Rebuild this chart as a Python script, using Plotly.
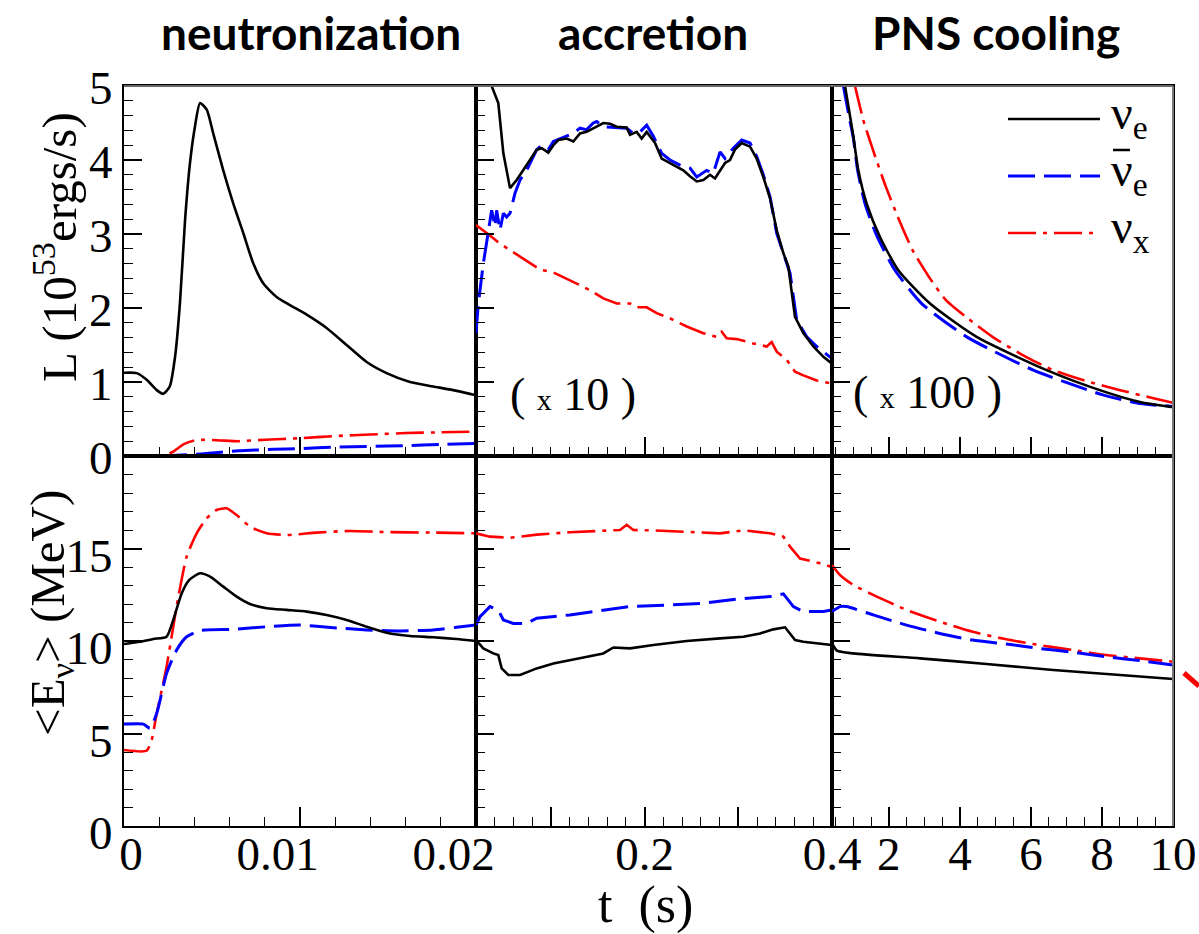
import plotly.graph_objects as go
from plotly.subplots import make_subplots

# ---------------- DATA ----------------
# Panel (1,1): neutronization, luminosity [10^53 erg/s]
t_n_L_nue = [0.0, 0.00072, 0.00129, 0.00186, 0.00223, 0.0026, 0.0029, 0.00318, 0.00347, 0.00375,
             0.00403, 0.00432, 0.0047, 0.00507, 0.00564, 0.00621, 0.00678, 0.00735, 0.00792, 0.00867,
             0.00943, 0.01038, 0.01151, 0.01265, 0.01379, 0.01492, 0.01625, 0.01757, 0.0189, 0.02]
L_n_nue = [1.125, 1.12, 1.03, 0.89, 0.84, 0.94, 1.34, 2.07, 3.19, 3.96,
           4.45, 4.77, 4.68, 4.36, 3.86, 3.41, 3.01, 2.60, 2.33, 2.15,
           2.04, 1.91, 1.73, 1.50, 1.27, 1.12, 1.00, 0.94, 0.88, 0.82]
t_n_L_anue = [0.0, 0.0020, 0.003, 0.0045, 0.0065, 0.0085, 0.010, 0.012, 0.014, 0.016, 0.018, 0.02]
L_n_anue = [0.0, 0.0, 0.01, 0.03, 0.07, 0.09, 0.10, 0.12, 0.13, 0.14, 0.155, 0.17]
t_n_L_nux = [0.0, 0.0022, 0.0028, 0.0034, 0.0040, 0.0046, 0.0055, 0.0065, 0.008, 0.010, 0.012, 0.014,
             0.016, 0.018, 0.02]
L_n_nux = [0.0, 0.0, 0.06, 0.16, 0.21, 0.22, 0.21, 0.20, 0.22, 0.24, 0.27, 0.29, 0.31, 0.32, 0.33]

# Panel (1,2): accretion, luminosity (x10)
t_a_L_nue = [0.0367, 0.0438, 0.0492, 0.0563, 0.0634, 0.0705, 0.0776, 0.0848, 0.0901, 0.0972,
             0.1026, 0.1079, 0.1168, 0.1239, 0.1310, 0.1381, 0.1452, 0.1523, 0.1559, 0.1630,
             0.1702, 0.1808, 0.1844, 0.1915, 0.1968, 0.2022, 0.2111, 0.2182, 0.2271, 0.2413,
             0.2484, 0.2556, 0.2627, 0.2698, 0.2751, 0.2805, 0.2858, 0.2911, 0.2964, 0.3036,
             0.3125, 0.3196, 0.3267, 0.3339, 0.3410, 0.3481, 0.3534, 0.3605, 0.3694, 0.3801,
             0.3908, 0.3997]
L_a_nue = [5.0, 4.77, 4.09, 3.62, 3.73, 3.86, 4.00, 4.14, 4.16, 4.10,
           4.20, 4.27, 4.29, 4.25, 4.36, 4.38, 4.43, 4.47, 4.50, 4.49,
           4.45, 4.44, 4.34, 4.38, 4.29, 4.38, 4.23, 4.02, 3.96, 3.86,
           3.78, 3.71, 3.73, 3.80, 3.75, 3.86, 3.96, 4.00, 4.14, 4.23,
           4.18, 4.02, 3.77, 3.48, 3.05, 2.74, 2.56, 1.88, 1.66, 1.48,
           1.34, 1.25]
t_a_L_anue = [0.02, 0.0225, 0.0278, 0.0331, 0.0367, 0.0403, 0.0420, 0.0456, 0.0492, 0.0527,
              0.0563, 0.0616, 0.0670, 0.0741, 0.0794, 0.0848, 0.0901, 0.0972, 0.1026, 0.1097,
              0.1168, 0.1239, 0.1310, 0.1381, 0.1452, 0.1488, 0.1559, 0.1702, 0.1808, 0.1880,
              0.1951, 0.2022, 0.2093, 0.2182, 0.2271, 0.2378, 0.2484, 0.2556, 0.2662, 0.2733,
              0.2805, 0.2858, 0.2946, 0.3036, 0.3125, 0.3196, 0.3267, 0.3339, 0.3410, 0.3481,
              0.3552, 0.3623, 0.3730, 0.3837, 0.3997]
L_a_anue = [1.66, 2.06, 2.60, 3.05, 3.32, 3.10, 3.32, 3.05, 3.28, 3.23,
            3.28, 3.55, 3.73, 3.86, 4.00, 4.14, 4.20, 4.14, 4.25, 4.29,
            4.32, 4.36, 4.43, 4.41, 4.50, 4.52, 4.45, 4.44, 4.43, 4.36,
            4.38, 4.47, 4.32, 4.09, 4.00, 3.93, 3.89, 3.77, 3.86, 3.82,
            4.11, 4.02, 4.16, 4.27, 4.23, 4.05, 3.80, 3.50, 3.01, 2.74,
            2.47, 1.84, 1.61, 1.48, 1.32]
t_a_L_nux = [0.02, 0.0278, 0.0349, 0.0456, 0.0563, 0.0670, 0.0776, 0.0883, 0.1026, 0.1132,
             0.1275, 0.1417, 0.1559, 0.1702, 0.1844, 0.1915, 0.2022, 0.2129, 0.2271, 0.2449,
             0.2627, 0.2769, 0.2822, 0.2876, 0.2983, 0.3161, 0.3303, 0.3356, 0.3410, 0.3516,
             0.3605, 0.3694, 0.3837, 0.3997]
L_a_nux = [3.12, 3.05, 2.98, 2.87, 2.78, 2.69, 2.60, 2.52, 2.48, 2.42,
           2.33, 2.24, 2.13, 2.06, 2.06, 2.01, 2.01, 1.93, 1.86, 1.75,
           1.66, 1.61, 1.68, 1.59, 1.58, 1.52, 1.48, 1.54, 1.41, 1.30,
           1.14, 1.09, 1.02, 0.98]

# Panel (1,3): PNS cooling, luminosity (x100)
t_c_L_nue = [0.766, 0.926, 1.0, 1.141, 1.376, 1.751, 2.267, 3.159, 4.472, 6.443, 8.0, 9.071, 10.0]
L_c_nue = [5.0, 4.54, 4.32, 3.86, 3.41, 2.96, 2.51, 2.06, 1.61, 1.16, 0.88, 0.73, 0.66]
t_c_L_anue = [0.72, 0.9, 1.0, 1.122, 1.329, 1.676, 2.174, 2.925, 4.192, 6.069, 8.0, 9.071, 10.0]
L_c_anue = [5.0, 4.54, 4.30, 3.86, 3.41, 2.96, 2.51, 2.06, 1.61, 1.16, 0.83, 0.71, 0.67]
t_c_L_nux = [1.047, 1.282, 1.586, 1.915, 2.29, 2.67, 3.13, 3.60, 4.17, 4.92, 5.86, 6.63, 7.57,
             8.51, 9.45, 10.0]
L_c_nux = [5.0, 4.54, 4.09, 3.64, 3.19, 2.78, 2.42, 2.11, 1.88, 1.61, 1.34, 1.16, 1.01,
           0.89, 0.78, 0.72]

# Panel (2,1): neutronization, mean energy [MeV]
t_n_E_nue = [0.0, 0.00091, 0.00167, 0.00242, 0.0028, 0.00328, 0.00371, 0.00432, 0.00489, 0.00564,
             0.0064, 0.00716, 0.00811, 0.00924, 0.01038, 0.01151, 0.01265, 0.01379, 0.01492, 0.01625,
             0.01757, 0.0189, 0.02]
E_n_nue = [9.84, 9.96, 10.11, 10.23, 11.14, 12.58, 13.30, 13.66, 13.48, 12.94,
           12.40, 12.00, 11.77, 11.68, 11.59, 11.41, 11.14, 10.77, 10.45, 10.27,
           10.20, 10.11, 10.0]
t_n_E_anue = [0.0, 0.0011, 0.00148, 0.00186, 0.00242, 0.00299, 0.00356, 0.00432, 0.0062, 0.00811,
              0.01, 0.0119, 0.01379, 0.01568, 0.01757, 0.0189, 0.02]
E_n_anue = [5.51, 5.51, 5.28, 6.09, 8.25, 9.51, 10.23, 10.56, 10.63, 10.77,
            10.86, 10.72, 10.60, 10.54, 10.60, 10.74, 10.86]
t_n_E_nux = [0.0, 0.00129, 0.00157, 0.00186, 0.00242, 0.00299, 0.00356, 0.00413, 0.0047, 0.00526,
             0.00583, 0.0064, 0.00716, 0.00811, 0.00924, 0.01094, 0.01284, 0.01473, 0.01757, 0.02]
E_n_nux = [4.11, 4.07, 4.65, 6.09, 8.61, 11.86, 14.56, 15.82, 16.63, 17.08,
           17.17, 16.81, 16.18, 15.82, 15.73, 15.86, 15.95, 15.89, 15.86, 15.82]

# Panel (2,2): accretion, mean energy
t_a_E_nue = [0.02, 0.0278, 0.0385, 0.0438, 0.0474, 0.0545, 0.0670, 0.0848, 0.1026, 0.1203,
             0.1381, 0.1559, 0.1666, 0.1844, 0.2093, 0.2449, 0.2805, 0.3054, 0.3232, 0.3374,
             0.3499, 0.3606, 0.3694, 0.3997]
E_a_nue = [10.05, 9.60, 9.33, 9.24, 8.52, 8.16, 8.16, 8.52, 8.79, 8.97,
           9.15, 9.33, 9.65, 9.60, 9.78, 10.00, 10.14, 10.23, 10.41, 10.63,
           10.74, 10.05, 9.96, 9.78]
t_a_E_anue = [0.02, 0.0243, 0.0349, 0.0438, 0.0492, 0.0599, 0.0741, 0.0848, 0.1203, 0.1559,
              0.1844, 0.2271, 0.2627, 0.2983, 0.3339, 0.3481, 0.3588, 0.3694, 0.3908, 0.3997]
E_a_anue = [10.86, 11.32, 11.86, 11.68, 11.14, 10.95, 10.95, 11.23, 11.41, 11.64,
            11.86, 11.95, 12.04, 12.26, 12.40, 12.55, 11.86, 11.59, 11.59, 11.68]
t_a_E_nux = [0.02, 0.0349, 0.0563, 0.0848, 0.1203, 0.1559, 0.1737, 0.1809, 0.1880, 0.2093,
             0.2449, 0.2805, 0.3054, 0.3339, 0.3481, 0.3552, 0.3659, 0.3872, 0.3997]
E_a_nux = [15.82, 15.64, 15.58, 15.75, 15.88, 15.98, 16.00, 16.28, 16.00, 15.98,
           15.88, 15.82, 15.98, 15.82, 15.64, 15.10, 14.46, 14.20, 14.00]

# Panel (2,3): PNS cooling, mean energy
t_c_E_nue = [0.4, 0.54, 1.0, 2.88, 4.75, 6.63, 8.51, 10.0]
E_c_nue = [9.87, 9.48, 9.33, 9.06, 8.76, 8.43, 8.16, 7.95]
t_c_E_anue = [0.4, 0.625, 0.81, 1.56, 2.5, 3.43, 4.36, 5.31, 6.24, 7.18, 8.12, 9.06, 10.0]
E_c_anue = [11.59, 11.86, 11.86, 11.41, 10.86, 10.41, 10.05, 9.84, 9.60, 9.39, 9.15, 8.94, 8.70]
t_c_E_nux = [0.4, 0.625, 1.0, 1.56, 2.5, 3.43, 4.36, 5.31, 6.24, 7.18, 8.12, 9.06, 10.0]
E_c_nux = [14.11, 13.57, 13.03, 12.49, 11.68, 11.05, 10.50, 10.09, 9.78, 9.51, 9.24, 9.06, 8.88]

# Axis ticks / labels
NB = "\u00a0" * 5
phase_titles = ["neutronization", "accretion", "PNS cooling"]
x_ranges = [[0, 0.02], [0.02, 0.4], [0.4, 10]]
x_tickvals = [[0, 0.01, 0.02], [0.1, 0.2, 0.3, 0.4], [2, 4, 6, 8, 10]]
x_ticktext = [["0", "0.01" + NB, "0.02" + NB], ["", "0.2", "", "0.4"],
              ["2", "4", "6", "8", "10"]]
x_minor_dtick = [0.002, 0.02, 0.5]
L_tickvals = [0, 1, 2, 3, 4, 5]
E_tickvals = [0, 5, 10, 15, 20]
E_ticktext = ["0", "5", "10", "15", ""]
legend_labels = ["ν<sub>e</sub>", "ν<sub>e</sub>", "ν<sub>x</sub>"]
scale_labels = ["( <span style='font-size:30px'>x</span> 10 )",
                "( <span style='font-size:30px'>x</span> 100 )"]

# ---------------- STYLE ----------------
SERIF = "Liberation Serif"
BLACK = dict(color="black", width=2.6)
BLUE = dict(color="#0000ff", width=3, dash="27px,9px")
RED = dict(color="#ff0000", width=2.6, dash="28px,7px,4px,7px")

fig = make_subplots(rows=2, cols=3, column_widths=[352, 356, 341],
                    horizontal_spacing=0, vertical_spacing=0)

panels = [
    (1, 1, [(t_n_L_nue, L_n_nue), (t_n_L_anue, L_n_anue), (t_n_L_nux, L_n_nux)], "spline"),
    (1, 2, [(t_a_L_nue, L_a_nue), (t_a_L_anue, L_a_anue), (t_a_L_nux, L_a_nux)], "linear"),
    (1, 3, [(t_c_L_nue, L_c_nue), (t_c_L_anue, L_c_anue), (t_c_L_nux, L_c_nux)], "spline"),
    (2, 1, [(t_n_E_nue, E_n_nue), (t_n_E_anue, E_n_anue), (t_n_E_nux, E_n_nux)], "spline"),
    (2, 2, [(t_a_E_nue, E_a_nue), (t_a_E_anue, E_a_anue), (t_a_E_nux, E_a_nux)], "linear"),
    (2, 3, [(t_c_E_nue, E_c_nue), (t_c_E_anue, E_c_anue), (t_c_E_nux, E_c_nux)], "spline"),
]
styles = [BLACK, BLUE, RED]
names = ["nu_e", "anti-nu_e", "nu_x"]
for r, c, series, shape in panels:
    # draw red and blue first, black on top
    for idx in [2, 1, 0]:
        xs, ys = series[idx]
        line = dict(styles[idx])
        line["shape"] = shape
        if shape == "spline":
            line["smoothing"] = 0.6
        fig.add_trace(go.Scatter(x=xs, y=ys, mode="lines", line=line, name=names[idx],
                                 showlegend=False, hoverinfo="skip"), row=r, col=c)

tickfont = dict(family=SERIF, size=47, color="black")
axis_common = dict(showline=True, mirror=True, linecolor="black", linewidth=2,
                   ticks="inside", tickcolor="black", tickwidth=1.6, showgrid=False,
                   zeroline=False, tickfont=tickfont)

for r in (1, 2):
    for c in (1, 2, 3):
        i = c - 1
        fig.update_xaxes(row=r, col=c, range=x_ranges[i], tickmode="array",
                         tickvals=x_tickvals[i], ticktext=x_ticktext[i], ticklen=19,
                         showticklabels=(r == 2), ticklabelstandoff=-14,
                         minor=dict(tickmode="linear", tick0=0, dtick=x_minor_dtick[i],
                                    ticks="inside", ticklen=9, tickcolor="black", tickwidth=1.4),
                         **axis_common)
        if r == 1:
            fig.update_yaxes(row=r, col=c, range=[0, 5], tickmode="array", tickvals=L_tickvals,
                             ticklen=18, showticklabels=(c == 1), ticklabelshift=2,
                             minor=dict(tickmode="linear", tick0=0, dtick=0.2, ticks="inside",
                                        ticklen=9, tickcolor="black", tickwidth=1.4),
                             **axis_common)
        else:
            fig.update_yaxes(row=r, col=c, range=[0, 20], tickmode="array", tickvals=E_tickvals,
                             ticktext=E_ticktext, ticklen=18, showticklabels=(c == 1),
                             ticklabelshift=7,
                             minor=dict(tickmode="linear", tick0=0, dtick=1, ticks="inside",
                                        ticklen=9, tickcolor="black", tickwidth=1.4),
                             **axis_common)

fig.update_xaxes(row=2, col=1, ticklabelshift=7)

W, H = 1199, 934
ML, MR, MT, MB = 124, 26, 86, 108
PW, PH = W - ML - MR, H - MT - MB


def px(x):
    return (x - ML) / PW


def py(y):
    return (H - MB - y) / PH


annotations = []
title_x = [311, 653, 996]
for txt, xc in zip(phase_titles, title_x):
    annotations.append(dict(text=txt, x=px(xc), y=py(32), xref="paper", yref="paper",
                            showarrow=False, xanchor="center", yanchor="middle",
                            font=dict(family="Lato", size=46, color="black", weight=700)))

annotations.append(dict(text="L (10<sup>53</sup>ergs/s)", x=px(55), y=py(247), xref="paper",
                        yref="paper", showarrow=False, textangle=-90, xanchor="center",
                        yanchor="middle", font=dict(family=SERIF, size=49, color="black")))
annotations.append(dict(text="&lt;E<sub>ν</sub>&gt; (MeV)", x=px(50), y=py(613), xref="paper",
                        yref="paper", showarrow=False, textangle=-90, xanchor="center",
                        yanchor="middle", font=dict(family=SERIF, size=49, color="black")))
annotations.append(dict(text="t\u00a0\u00a0(s)", x=px(645), y=py(905), xref="paper", yref="paper",
                        showarrow=False, xanchor="center", yanchor="middle",
                        font=dict(family=SERIF, size=52, color="black")))
annotations.append(dict(text=scale_labels[0], x=px(573), y=py(395), xref="paper", yref="paper",
                        showarrow=False, xanchor="center", yanchor="middle",
                        font=dict(family=SERIF, size=46, color="black")))
annotations.append(dict(text=scale_labels[1], x=px(927), y=py(392), xref="paper", yref="paper",
                        showarrow=False, xanchor="center", yanchor="middle",
                        font=dict(family=SERIF, size=46, color="black")))

shapes = []
legend_y = [119, 176, 233]
for lab, yy, st in zip(legend_labels, legend_y, styles):
    ln = dict(color=st["color"], width=st["width"])
    if "dash" in st:
        ln["dash"] = st["dash"]
    shapes.append(dict(type="line", xref="paper", yref="paper", x0=px(1008), x1=px(1100),
                       y0=py(yy), y1=py(yy), line=ln))
    annotations.append(dict(text=lab, x=px(1109), y=py(yy - 3), xref="paper", yref="paper",
                            showarrow=False, xanchor="left", yanchor="middle",
                            font=dict(family=SERIF, size=48, color="black")))
# bar over the anti-neutrino symbol
shapes.append(dict(type="line", xref="paper", yref="paper", x0=px(1113), x1=px(1130),
                   y0=py(150), y1=py(150), line=dict(color="black", width=2.5)))

# decorative red stroke at the right edge (part of the original slide)
shapes.append(dict(type="line", xref="paper", yref="paper", x0=px(1184), x1=px(1199),
                   y0=py(673), y1=py(686), line=dict(color="#ff0000", width=5)))
# lighter frame on top and right edges
shapes.append(dict(type="line", xref="paper", yref="paper", x0=0, x1=1, y0=1, y1=1,
                   line=dict(color="#666666", width=2)))
shapes.append(dict(type="line", xref="paper", yref="paper", x0=1, x1=1, y0=0, y1=1,
                   line=dict(color="#777777", width=2)))

fig.update_layout(width=W, height=H, margin=dict(l=ML, r=MR, t=MT, b=MB),
                  template="none", paper_bgcolor="white", plot_bgcolor="white",
                  showlegend=False, annotations=annotations, shapes=shapes)

fig.write_html("out.html")
